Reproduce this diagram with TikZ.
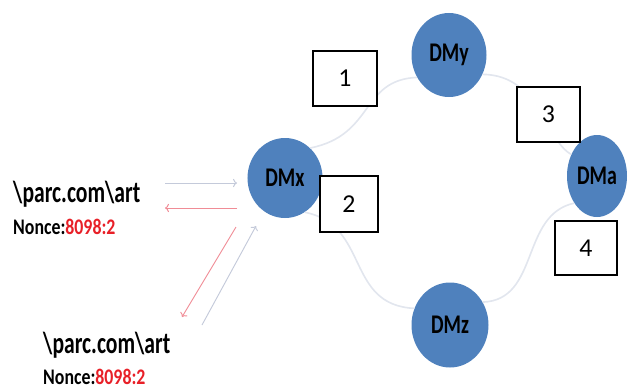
\documentclass[tikz,border=0pt]{standalone}
\usepackage{fontspec}
\setmainfont{Carlito}
\usetikzlibrary{arrows.meta,shapes.geometric}

\definecolor{dmblue}{RGB}{79,129,189}
\definecolor{linkgray}{RGB}{226,230,238}
\definecolor{reqgray}{RGB}{196,202,218}
\definecolor{resred}{RGB}{240,140,150}
\definecolor{noncered}{RGB}{232,32,40}

% narrow lettering
\newcommand{\cond}[2][0.82]{\scalebox{#1}[1]{#2}}

\begin{document}
\begin{tikzpicture}[x=0.03cm,y=-0.03cm,
  dm/.style={ellipse,fill=dmblue,inner sep=0pt,font=\bfseries\fontsize{23}{23}\selectfont},
  numbox/.style={draw,fill=white,line width=1.1pt,inner sep=0pt,font=\fontsize{22}{22}\selectfont},
  link/.style={linkgray,line width=1.4pt},
  req/.style={reqgray,line width=0.8pt,->},
  resp/.style={resred,line width=0.8pt,->},
  url/.style={anchor=base west,inner sep=0pt,font=\bfseries\fontsize{26}{26}\selectfont},
  nonce/.style={anchor=base west,inner sep=0pt,font=\bfseries\fontsize{19}{19}\selectfont}]

\useasboundingbox (0,0) rectangle (632,388);

% Domain managers
\node[dm,minimum width=2.25cm,minimum height=2.4cm] (DMx) at (285,178) {\cond[0.74]{DMx}};
\node[dm,minimum width=2.25cm,minimum height=2.52cm] (DMy) at (449,55) {\cond[0.74]{DMy}};
\node[dm,minimum width=2.31cm,minimum height=2.55cm] (DMz) at (450,325) {\cond[0.74]{DMz}};
\node[dm,minimum width=1.8cm,minimum height=2.46cm] (DMa) at (597,176) {\cond[0.74]{DMa}};

% Links between managers
\draw[link] (DMx.50) .. controls (375,135) and (360,80) .. (DMy.215);
\draw[link] (DMy.330) .. controls (540,75) and (545,140) .. (DMa.140);
\draw[link] (DMx.300) .. controls (370,225) and (345,305) .. (DMz.155);
\draw[link] (DMz.35) .. controls (540,300) and (520,215) .. (DMa.230);

% Step numbers
\node[numbox,minimum width=1.92cm,minimum height=1.65cm] (n1) at (345,78.5) {1};
\node[numbox,minimum width=1.74cm,minimum height=1.68cm] (n2) at (349,204) {2};
\node[numbox,minimum width=1.89cm,minimum height=1.65cm] (n3) at (548.5,114.5) {3};
\node[numbox,minimum width=1.86cm,minimum height=1.62cm] (n4) at (586,248) {4};

% Interests and replies
\node[url] (url1) at (13,202) {\cond[0.71]{\textbackslash parc.com\textbackslash art}};
\node[nonce] (nonce1) at (13,234) {\cond[0.8]{Nonce:\textcolor{noncered}{8098:2}}};
\node[url] (url2) at (43,353) {\cond[0.71]{\textbackslash parc.com\textbackslash art}};
\node[nonce] (nonce2) at (43,384) {\cond[0.8]{Nonce:\textcolor{noncered}{8098:2}}};

\coordinate (reqA) at (165,183);
\coordinate (reqB) at (237,183);
\coordinate (repA) at (237,208);
\coordinate (repB) at (165,208);
\coordinate (repC) at (236,227);
\coordinate (repD) at (182,317);
\coordinate (reqC) at (202,325);
\coordinate (reqD) at (256,226);

\draw[req] (reqA) -- (reqB);
\draw[resp] (repA) -- (repB);
\draw[resp] (repC) -- (repD);
\draw[req] (reqC) -- (reqD);

\end{tikzpicture}
\end{document}
